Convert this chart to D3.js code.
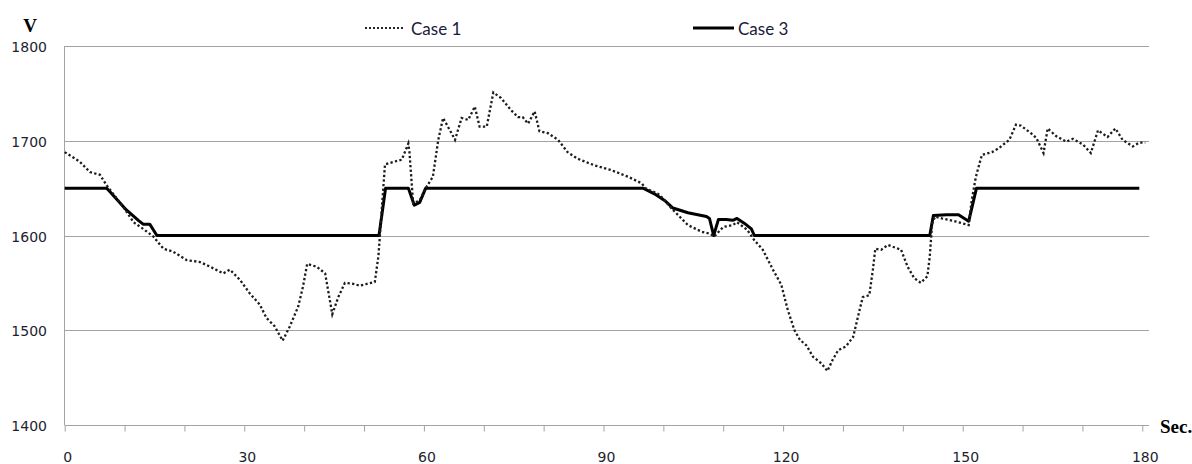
<!DOCTYPE html>
<html>
<head>
<meta charset="utf-8">
<script src="https://cdn.jsdelivr.net/npm/d3@7"></script>
<style>
  html, body { margin: 0; padding: 0; background: #fff; }
  svg { display: block; }
</style>
</head>
<body>
<svg id="chart" width="1192" height="464"></svg>
<script>
// Case 1: measured voltage (seconds, volts)
const case1Sec = [0, 2.5, 4.2, 5.9, 7, 9.8, 11.5, 13.1, 14.8, 16.5, 18.1, 20.4, 22.6, 24.3, 26.5, 27.6, 29.3, 30.9, 32.6, 33.7,
  35.1, 36.4, 37.6, 39, 39.8, 40.5, 42.1, 43.5, 44, 44.7, 45.7, 46.8, 48.2, 49.3, 50.5, 51.8, 52.4, 53.5, 55.1, 56.3,
  57.4, 57.6, 58.2, 59.3, 60.4, 61.5, 62.4, 63.2, 64, 65.2, 66.3, 67.4, 68.5, 69.3, 70.5, 71.6, 72.9, 74.6, 75.7, 76.5,
  77.4, 78.5, 79.3, 80.7, 82.4, 84, 85.7, 88.5, 91.3, 94.1, 96.4, 97, 99.4, 101.3, 104.1, 106.4, 107.7, 108.5, 110, 111.6,
  112.3, 114, 115.2, 116.6, 118.3, 119.7, 120.8, 121.9, 122.8, 123.9, 125, 126.4, 127.4, 128.3, 129.2, 130.5, 131.7, 132.5, 133.3, 134.4,
  135, 135.4, 136.4, 137.5, 139.7, 140.8, 141.9, 143, 144.1, 144.5, 144.9, 145.4, 146.5, 148.7, 151, 151.5, 152.2, 153.2, 154.9, 156,
  157.8, 158.9, 159.7, 161.4, 162.3, 163.5, 164.2, 165.6, 167.3, 168.4, 170.1, 171.4, 172.6, 174.2, 175.5, 176.7, 178.4, 179.5, 180.5];
const case1Volt = [1688, 1678, 1667, 1664, 1653, 1630, 1614, 1607, 1599, 1586, 1583, 1574, 1572, 1567, 1560, 1564, 1553, 1539, 1527, 1513,
  1504, 1489, 1504, 1525, 1546, 1570, 1567, 1560, 1542, 1517, 1535, 1550, 1549, 1547, 1549, 1551, 1578, 1675, 1678, 1680,
  1697, 1687, 1634, 1637, 1651, 1662, 1701, 1724, 1715, 1701, 1724, 1722, 1736, 1715, 1715, 1751, 1745, 1732, 1725, 1725,
  1718, 1731, 1710, 1708, 1701, 1688, 1681, 1674, 1669, 1662, 1655, 1650, 1643, 1629, 1611, 1604, 1602, 1599, 1609, 1611,
  1614, 1606, 1595, 1585, 1564, 1548, 1521, 1500, 1490, 1484, 1472, 1465, 1457, 1469, 1479, 1483, 1493, 1514, 1535, 1537,
  1564, 1586, 1585, 1590, 1585, 1567, 1555, 1550, 1557, 1578, 1613, 1620, 1618, 1615, 1611, 1637, 1662, 1685, 1688, 1692,
  1701, 1717, 1716, 1708, 1703, 1687, 1713, 1705, 1699, 1702, 1696, 1687, 1711, 1704, 1713, 1701, 1694, 1698, 1698];

// Case 3: regulated voltage (seconds, volts)
const case3Sec = [0, 7, 7.6, 10.3, 12.3, 13.1, 14.2, 15.4, 52.5, 53.6, 57.4, 58.4, 59.3, 60.3, 96.6, 98.5, 100.2, 101.6, 104.1, 107.2,
  107.7, 108.4, 109.2, 110.5, 111.6, 112.3, 113.5, 114.7, 115.2, 144.5, 145.1, 147.3, 149.3, 151, 152.3, 179.5];
const case3Volt = [1650, 1650, 1646, 1627, 1616, 1612, 1612, 1600, 1600, 1650, 1650, 1632, 1635, 1650, 1650, 1644, 1637, 1629, 1624, 1620,
  1618, 1600, 1617, 1617, 1616, 1618, 1613, 1607, 1600, 1600, 1621, 1622, 1622, 1615, 1650, 1650];

const yTicks = [1400, 1500, 1600, 1700, 1800];
const xTicks = [0, 10, 20, 30, 40, 50, 60, 70, 80, 90, 100, 110, 120, 130, 140, 150, 160, 170, 180];
const xLabels = [0, 30, 60, 90, 120, 150, 180];
const seriesNames = ["Case 1", "Case 3"];

const svg = d3.select("#chart");
const x = d3.scaleLinear().domain([0, 180]).range([64.7, 1142.3]);
const y = d3.scaleLinear().domain([1400, 1800]).range([425, 46]);
const plotLeft = 64.5, plotRight = 1149;

const gridColor = "#a3a3a3";
const labelFont = "'DejaVu Sans', Verdana, sans-serif";

// horizontal gridlines
svg.append("g").selectAll("line")
  .data(yTicks.filter(d => d > 1400))
  .join("line")
  .attr("x1", plotLeft).attr("x2", plotRight)
  .attr("y1", d => Math.round(y(d)) + 0.5).attr("y2", d => Math.round(y(d)) + 0.5)
  .attr("stroke", gridColor).attr("stroke-width", 1);

// left axis line
svg.append("line")
  .attr("x1", plotLeft).attr("x2", plotLeft)
  .attr("y1", y(1800)).attr("y2", y(1400))
  .attr("stroke", gridColor).attr("stroke-width", 1);

// bottom axis with ticks every 10 s
const xAxis = d3.axisBottom(x).tickValues(xTicks).tickSize(6).tickFormat("");
const gx = svg.append("g").attr("transform", `translate(0,${Math.round(y(1400)) + 0.5})`).call(xAxis);
gx.select(".domain").remove();
gx.selectAll(".tick line").attr("stroke", gridColor);
svg.append("line")
  .attr("x1", plotLeft).attr("x2", plotRight)
  .attr("y1", Math.round(y(1400)) + 0.5).attr("y2", Math.round(y(1400)) + 0.5)
  .attr("stroke", gridColor).attr("stroke-width", 1);

// x labels
svg.append("g").selectAll("text")
  .data(xLabels)
  .join("text")
  .attr("x", d => x(d) + 3)
  .attr("y", 462)
  .attr("text-anchor", "middle")
  .attr("font-family", labelFont)
  .attr("font-size", 14)
  .attr("fill", "#1e1e2e")
  .text(d => d);

// y labels
svg.append("g").selectAll("text")
  .data(yTicks)
  .join("text")
  .attr("x", 47)
  .attr("y", d => y(d) + 6)
  .attr("text-anchor", "end")
  .attr("font-family", labelFont)
  .attr("font-size", 14)
  .attr("fill", "#1e1e2e")
  .text(d => d);

// axis titles
svg.append("text")
  .attr("x", 30).attr("y", 32)
  .attr("text-anchor", "middle")
  .attr("font-family", "'Liberation Serif', 'Times New Roman', serif")
  .attr("font-weight", "bold")
  .attr("font-size", 19)
  .attr("fill", "#000")
  .text("V");
svg.append("text")
  .attr("x", 1160).attr("y", 433)
  .attr("font-family", "'Liberation Serif', 'Times New Roman', serif")
  .attr("font-weight", "bold")
  .attr("font-size", 19)
  .attr("fill", "#000")
  .text("Sec.");

const line = d3.line().x(d => x(d[0])).y(d => y(d[1]));
const case1 = case1Sec.map((t, i) => [t, case1Volt[i]]);
const case3 = case3Sec.map((t, i) => [t, case3Volt[i]]);

// Case 3 solid line
svg.append("path")
  .datum(case3)
  .attr("d", line)
  .attr("fill", "none")
  .attr("stroke", "#000")
  .attr("stroke-width", 3)
  .attr("stroke-linejoin", "round");

// Case 1 dotted line
svg.append("path")
  .datum(case1)
  .attr("d", line)
  .attr("fill", "none")
  .attr("stroke", "#1c1c1c")
  .attr("stroke-width", 2.3)
  .attr("stroke-dasharray", "2.3,2.3");

// legend
const legend = svg.append("g");
const legendItems = [
  { name: seriesNames[0], x1: 365, x2: 403, tx: 411, dash: "2,2", w: 2, c: "#262626" },
  { name: seriesNames[1], x1: 693, x2: 734, tx: 738, dash: null, w: 3, c: "#000" }
];
legendItems.forEach(d => {
  legend.append("line")
    .attr("x1", d.x1).attr("x2", d.x2)
    .attr("y1", 28).attr("y2", 28)
    .attr("stroke", d.c).attr("stroke-width", d.w)
    .attr("stroke-dasharray", d.dash);
  legend.append("text")
    .attr("x", d.tx).attr("y", 35)
    .attr("font-family", "Lato, 'Open Sans', sans-serif")
    .attr("font-size", 17)
    .attr("fill", "#1a1a3a")
    .text(d.name);
});
</script>
</body>
</html>
